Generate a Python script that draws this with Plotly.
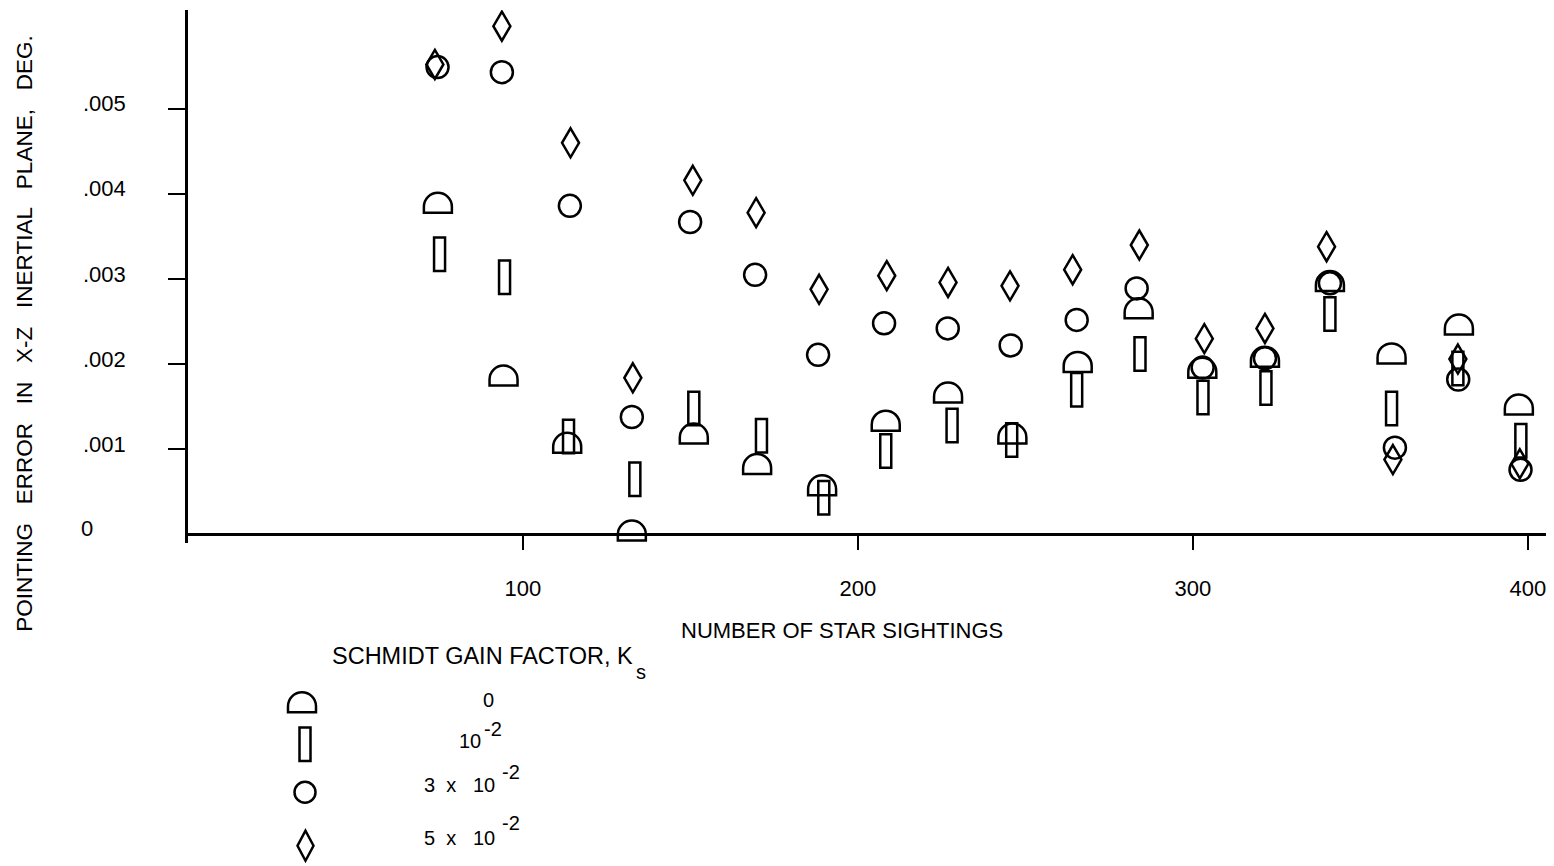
import plotly.graph_objects as go

# ---------------- data ----------------
# Schmidt gain factor Ks = 0  (half-circle symbol)
sightings_ks0 = [74.6, 94.2, 113.2, 132.5, 151.0, 169.9, 189.3, 208.3, 226.9,
                 246.1, 265.6, 283.8, 302.8, 321.5, 340.9, 359.3, 379.4, 397.3]
error_ks0 = [0.00385, 0.00182, 0.00103, 0.00000, 0.00114, 0.00078, 0.00053, 0.00129, 0.00162,
             0.00114, 0.00198, 0.00261, 0.00191, 0.00204, 0.00293, 0.00208, 0.00242, 0.00148]

# Ks = 1e-2  (tall rectangle symbol)
sightings_ks1 = [75.1, 94.5, 113.6, 133.4, 151.0, 171.2, 189.8, 208.3, 228.1,
                 245.9, 265.3, 284.2, 303.0, 321.8, 340.9, 359.3, 379.1, 397.9]
error_ks1 = [0.00329, 0.00302, 0.00115, 0.00065, 0.00148, 0.00116, 0.00043, 0.00098, 0.00128,
             0.00111, 0.00170, 0.00212, 0.00161, 0.00172, 0.00259, 0.00148, 0.00195, 0.00110]

# Ks = 3e-2  (circle symbol)
sightings_ks3 = [74.5, 93.7, 114.0, 132.5, 149.9, 169.3, 188.1, 207.8, 226.8,
                 245.6, 265.3, 283.2, 302.9, 321.5, 340.9, 360.3, 379.2, 397.8]
error_ks3 = [0.00549, 0.00543, 0.00386, 0.00138, 0.00367, 0.00305, 0.00211, 0.00248, 0.00242,
             0.00222, 0.00252, 0.00289, 0.00196, 0.00207, 0.00295, 0.00102, 0.00182, 0.00076]

# Ks = 5e-2  (diamond symbol)
sightings_ks5 = [73.7, 93.7, 114.2, 132.8, 150.7, 169.6, 188.4, 208.6, 226.9,
                 245.4, 264.1, 284.0, 303.4, 321.5, 339.9, 359.7, 379.1, 397.6]
error_ks5 = [0.00552, 0.00597, 0.00460, 0.00184, 0.00416, 0.00378, 0.00288, 0.00304, 0.00296,
             0.00292, 0.00311, 0.00340, 0.00230, 0.00242, 0.00338, 0.00088, 0.00206, 0.00083]

x_tick_vals = [100, 200, 300, 400]
x_tick_text = ["100", "200", "300", "400"]
y_tick_vals = [0.001, 0.002, 0.003, 0.004, 0.005]
y_tick_text = [".001", ".002", ".003", ".004", ".005"]
y_zero_text = "0"

legend_title = "SCHMIDT GAIN FACTOR, K"
legend_title_sub = "s"
NB = "\u00a0"
legend_labels = ["0", "10", "3" + NB * 2 + "x" + NB * 3 + "10", "5" + NB * 2 + "x" + NB * 3 + "10"]
legend_exponents = ["", "-2", "-2", "-2"]
x_title = "NUMBER OF STAR SIGHTINGS"
y_title = ("POINTING " + NB * 2 + "ERROR " + NB * 2 + "IN " + NB * 2 + "X-Z " + NB * 2
           + "INERTIAL " + NB * 2 + "PLANE, " + NB * 2 + "DEG.")

# ---------------- layout constants ----------------
OFF = 8                      # page margin around the plot div
W, H = 1546, 858
ML, MR, MT, MB = 180, 4, 2, 322.5
PW, PH = W - ML - MR, H - MT - MB
X_RANGE = [0, 406.6]
Y_RANGE = [-0.0001, 0.00616]
FONT = "Liberation Sans, Arial, DejaVu Sans, sans-serif"
INK = "black"
LW = 2.5
CLEAR = "rgba(0,0,0,0)"


def px_x(px):
    """page pixel -> paper fraction (x)"""
    return (px - OFF - ML) / PW


def px_y(py):
    """page pixel -> paper fraction (y)"""
    return (H - MB - (py - OFF)) / PH


def dome_path(r=14.0, h=6.0):
    k = 0.5523 * r
    return (f"M{-r},{-h} L{-r},0 C{-r},{k} {-k},{r} 0,{r} "
            f"C{k},{r} {r},{k} {r},0 L{r},{-h} Z")


def bar_path(w=5.5, h=16.75):
    return f"M{-w},{-h} L{w},{-h} L{w},{h} L{-w},{h} Z"


def diamond_path(w=8.5, h=14.5):
    return f"M0,{h} L{w},0 L0,{-h} L{-w},0 Z"


def data_glyph(xv, yv, path):
    return dict(type="path", xref="x", yref="y", xsizemode="pixel", ysizemode="pixel",
                xanchor=xv, yanchor=yv, path=path,
                line=dict(color=INK, width=LW), fillcolor=CLEAR)


def paper_glyph(px, py, path):
    return dict(type="path", xref="paper", yref="paper", xsizemode="pixel", ysizemode="pixel",
                xanchor=px_x(px), yanchor=px_y(py), path=path,
                line=dict(color=INK, width=LW), fillcolor=CLEAR)


def page_text(text, px, py, size, xanchor="left", angle=0):
    return dict(x=px_x(px), xref="paper", y=px_y(py), yref="paper",
                xanchor=xanchor, yanchor="middle", text=text, textangle=angle,
                showarrow=False, font=dict(family=FONT, size=size, color=INK))


fig = go.Figure()

# circles as native markers
fig.add_trace(go.Scatter(
    x=sightings_ks3, y=error_ks3, mode="markers", name="3 x 10^-2",
    marker=dict(symbol="circle-open", size=22, color=INK, line=dict(color=INK, width=LW)),
    cliponaxis=False, showlegend=False, hoverinfo="x+y"))
# invisible hover carriers for the shape-drawn series
for xs, ys, nm in [(sightings_ks0, error_ks0, "0"), (sightings_ks1, error_ks1, "10^-2"),
                   (sightings_ks5, error_ks5, "5 x 10^-2")]:
    fig.add_trace(go.Scatter(x=xs, y=ys, mode="markers", name=nm,
                             marker=dict(size=14, color=CLEAR), showlegend=False,
                             hoverinfo="x+y"))

shapes = []
# half-circles, rectangles and diamonds anchored at data values, pixel-sized outlines
for xv, yv in zip(sightings_ks0, error_ks0):
    shapes.append(data_glyph(xv, yv, dome_path()))
for xv, yv in zip(sightings_ks1, error_ks1):
    shapes.append(data_glyph(xv, yv, bar_path()))
for xv, yv in zip(sightings_ks5, error_ks5):
    shapes.append(data_glyph(xv, yv, diamond_path()))

# legend symbols (layout, paper coordinates)
leg_sym_x = [302, 305, 305, 305.5]
leg_sym_y = [707, 745, 793, 846.5]
shapes.append(paper_glyph(leg_sym_x[0], leg_sym_y[0], dome_path()))
shapes.append(paper_glyph(leg_sym_x[1], leg_sym_y[1], bar_path()))
shapes.append(dict(type="circle", xref="paper", yref="paper", xsizemode="pixel", ysizemode="pixel",
                   xanchor=px_x(leg_sym_x[2]), yanchor=px_y(leg_sym_y[2]),
                   x0=-10.5, x1=10.5, y0=-10.5, y1=10.5,
                   line=dict(color=INK, width=LW), fillcolor=CLEAR))
shapes.append(paper_glyph(leg_sym_x[3], leg_sym_y[3], diamond_path(8.0, 15.0)))

annotations = []
# y tick labels (left aligned, as in the reference)
for v, t in zip(y_tick_vals, y_tick_text):
    annotations.append(dict(x=px_x(81), xref="paper", xanchor="left", y=v, yref="y",
                            yanchor="middle", yshift=5, text=t, showarrow=False,
                            font=dict(family=FONT, size=22, color=INK)))
annotations.append(dict(x=px_x(79), xref="paper", xanchor="left", y=0, yref="y",
                        yanchor="middle", yshift=6, text=y_zero_text, showarrow=False,
                        font=dict(family=FONT, size=22, color=INK)))
# axis titles
annotations.append(page_text(x_title, 842, 631, 22, xanchor="center"))
annotations.append(page_text(y_title, 25, 334, 22.5, xanchor="center", angle=-90))
# legend title with subscript
annotations.append(page_text(legend_title, 330, 657, 23.5))
annotations.append(page_text(legend_title_sub, 634, 673, 20))
# legend entries (base text and exponent)
leg_txt_x = [488, 457, 422, 422]
leg_txt_anchor = ["center", "left", "left", "left"]
leg_txt_y = [701, 742, 786, 839]
leg_exp_x = [0, 482, 500, 500]
leg_exp_y = [0, 730, 773, 824]
for lab, lx, la, ly, ex, exx, exy in zip(legend_labels, leg_txt_x, leg_txt_anchor, leg_txt_y,
                                         legend_exponents, leg_exp_x, leg_exp_y):
    annotations.append(page_text(lab, lx, ly, 20, xanchor=la))
    if ex:
        annotations.append(page_text(ex, exx, exy, 20))

x_axis_pos = (0 - Y_RANGE[0]) / (Y_RANGE[1] - Y_RANGE[0])

fig.update_layout(
    width=W, height=H,
    margin=dict(l=ML, r=MR, t=MT, b=MB, pad=0),
    paper_bgcolor="white", plot_bgcolor="white",
    showlegend=False,
    font=dict(family=FONT, size=22, color=INK),
    xaxis=dict(range=X_RANGE, showline=True, linewidth=LW, linecolor=INK,
               ticks="outside", ticklen=14, tickwidth=2, tickcolor=INK,
               tickvals=x_tick_vals, ticktext=x_tick_text,
               tickfont=dict(family=FONT, size=22, color=INK),
               ticklabelstandoff=19,
               showgrid=False, zeroline=False, anchor="free", position=x_axis_pos),
    yaxis=dict(range=Y_RANGE, showline=True, linewidth=LW, linecolor=INK,
               ticks="outside", ticklen=17, tickwidth=2, tickcolor=INK,
               tickvals=y_tick_vals, showticklabels=False,
               showgrid=False, zeroline=False),
    shapes=shapes, annotations=annotations,
)

fig.write_html("out.html")
